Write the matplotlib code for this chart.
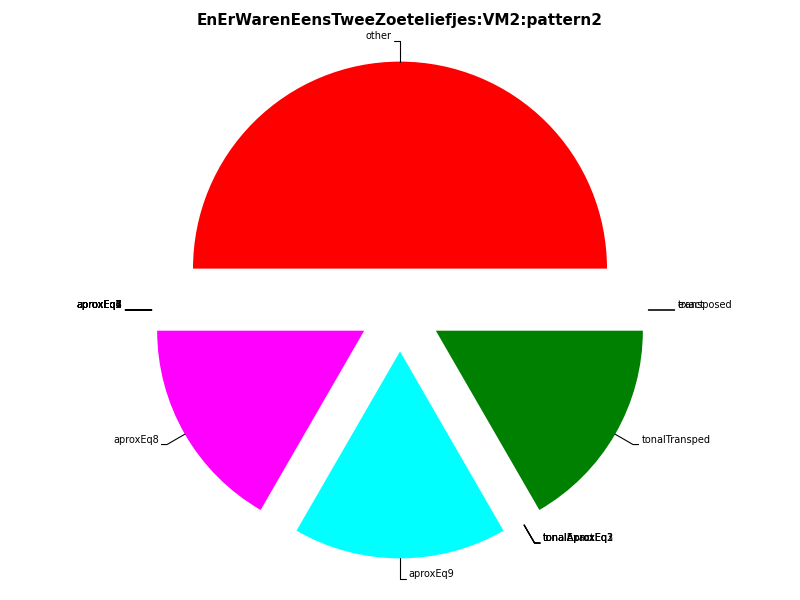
import numpy as np
import matplotlib
matplotlib.use("Agg")
import matplotlib.pyplot as plt

# ─── Datos ───────────────────────────────────────────────────────────────────
labels = ["exact", "transposed", "other",
          "aproxEq1", "aproxEq2", "aproxEq3", "aproxEq4", "aproxEq5", "aproxEq6", "aproxEq7",
          "aproxEq8", "aproxEq9",
          "tonalExact", "tonalAproxEq1", "tonalAproxEq2", "tonalAproxEq3", "tonalTransped"]
values = [0, 0, 3,
          0, 0, 0, 0, 0, 0, 0,
          1, 1,
          0, 0, 0, 0, 1]
colors = ["blue", "yellow", "red",
          "gray", "gray", "gray", "gray", "gray", "gray", "gray",
          "magenta", "cyan",
          "orange", "orange", "orange", "orange", "green"]

fig = plt.figure(figsize=(8, 6), dpi=100)
ax = fig.add_axes([0, 0, 1, 1])

wedges, _ = ax.pie(values, colors=colors, explode=[0.2] * len(values),
                   startangle=0, counterclock=True, radius=1)

ax.set_xlim(-400 / 207, 400 / 207)
ax.set_ylim(-290 / 207, 310 / 207)
ax.set_aspect("auto")
ax.axis("off")

# ─── Etiquetas con líneas ───────────────────────────────────────────────────
for w, lab in zip(wedges, labels):
    ang_deg = (w.theta1 + w.theta2) / 2
    ang = np.deg2rad(ang_deg)
    x, y = np.cos(ang), np.sin(ang)
    sx = np.sign(np.round(x, 6))
    if sx == 0:
        sx = -np.sign(y)
    if sx > 0:
        ha, relpos = "left", (1, 0)
    else:
        ha, relpos = "right", (0, 0)
    if abs(np.sin(ang)) < 1e-6:
        conn = "arc3"
    else:
        conn = "angle,angleA=0,angleB=%f" % ang_deg
    ax.annotate(lab, xy=(1.2 * x, 1.2 * y), xytext=(1.3 * x + 0.04 * sx, 1.3 * y),
                ha=ha, va="bottom", fontsize=7,
                arrowprops=dict(arrowstyle="-", color="black", lw=0.8, relpos=relpos,
                                shrinkA=0, shrinkB=0, connectionstyle=conn))

fig.text(0.5, 0.978, "EnErWarenEensTweeZoeteliefjes:VM2:pattern2",
         ha="center", va="top", fontsize=11, fontweight="bold")

fig.savefig("out.png", dpi=100)
